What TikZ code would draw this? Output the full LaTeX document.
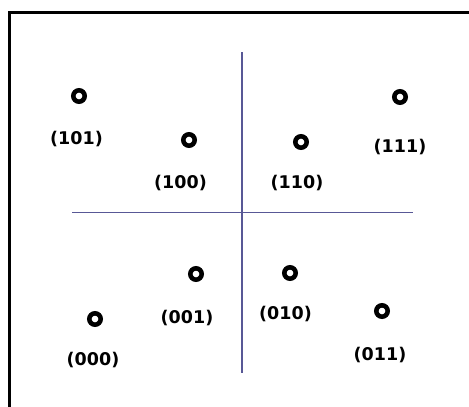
\documentclass[tikz,border=0pt]{standalone}
\usepackage{fontspec}
\newfontfamily\lblfont{DejaVu Sans}
\definecolor{axiscol}{RGB}{88,88,150}
\tikzset{
  frameline/.style={line width=3.3pt, line join=miter, black},
  axisline/.style={line width=1.4pt, axiscol},
  ring/.style={circle, draw=black, line width=4.6pt, minimum size=11.4pt, inner sep=0pt},
  lbl/.style={inner sep=0pt, font=\lblfont\bfseries\fontsize{17.5}{20}\selectfont}
}
\begin{document}
\begin{tikzpicture}[x=1pt,y=-1pt]
\useasboundingbox (0,0) rectangle (469,407);
\fill[white] (0,0) rectangle (469,407);
% frame (left and top edges visible)
\coordinate (fbl) at (9.5,420);
\coordinate (ftl) at (9.5,12.3);
\coordinate (ftr) at (480,12.3);
\draw[frameline] (fbl) -- (ftl) -- (ftr);
% axes
\coordinate (vt) at (242,52);
\coordinate (vb) at (242,373);
\coordinate (hl) at (72,212.5);
\coordinate (hr) at (413,212.5);
\draw[axisline] (vt) -- (vb);
\draw[axisline] (hl) -- (hr);
% constellation points
\node[ring] (p101) at (79,96) {};
\node[ring] (p100) at (189,140) {};
\node[ring] (p110) at (301,142) {};
\node[ring] (p111) at (400,97) {};
\node[ring] (p001) at (196,274) {};
\node[ring] (p010) at (290,273) {};
\node[ring] (p011) at (382,311) {};
\node[ring] (p000) at (95,319) {};
% labels
\node[lbl] (l101) at (76.5,139) {(101)};
\node[lbl] (l100) at (180.5,183.5) {(100)};
\node[lbl] (l110) at (297,183.5) {(110)};
\node[lbl] (l111) at (400,147.5) {(111)};
\node[lbl] (l001) at (187,318) {(001)};
\node[lbl] (l010) at (285.5,314.5) {(010)};
\node[lbl] (l011) at (380,355) {(011)};
\node[lbl] (l000) at (93,360) {(000)};
\end{tikzpicture}
\end{document}
